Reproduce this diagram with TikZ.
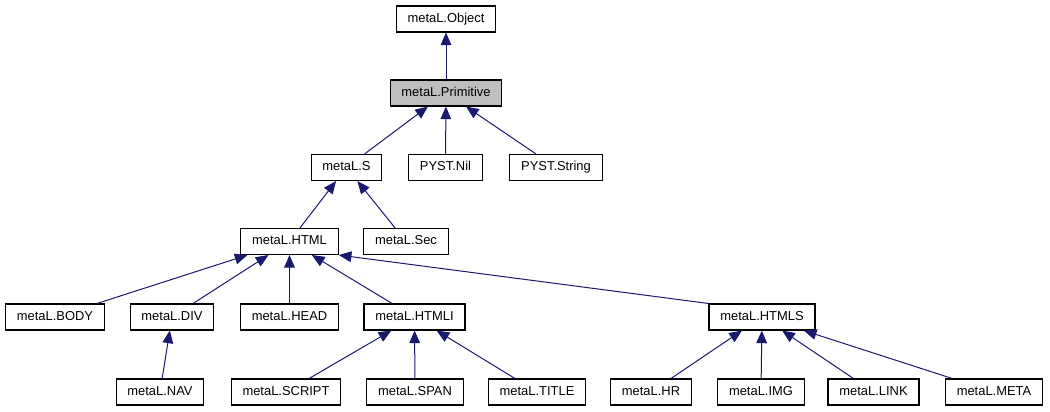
\documentclass[tikz,border=0pt]{standalone}
\usepackage{fontspec}
\setmainfont{Liberation Sans}
\usetikzlibrary{arrows.meta}
\definecolor{edgeblue}{HTML}{191970}
\definecolor{curgray}{HTML}{BFBFBF}
\tikzset{
  box/.style={draw, rectangle, font=\fontsize{9.7}{11}\selectfont, minimum height=19.5pt, inner xsep=8.5pt, inner ysep=0pt, text height=7pt, text depth=2pt, fill=white, line width=0.8pt},
  cur/.style={box, fill=curgray},
  arr/.style={-{Triangle[length=9.5pt,width=8pt]}, color=edgeblue, line width=0.75pt},
}

\begin{document}
\begin{tikzpicture}[x=0.75pt,y=-0.75pt]
\useasboundingbox (0,0) rectangle (1050,411);
\node[box] (obj) at (446,19) {metaL.Object};
\node[cur] (prim) at (446,93) {metaL.Primitive};
\node[box] (s) at (346.5,167.5) {metaL.S};
\node[box] (nil) at (445.5,167.5) {PYST.Nil};
\node[box] (str) at (556,167.5) {PYST.String};
\node[box] (html) at (289.5,241.5) {metaL.HTML};
\node[box] (sec) at (406,241.5) {metaL.Sec};
\node[box] (body) at (55,317) {metaL.BODY};
\node[box] (div) at (172,317) {metaL.DIV};
\node[box] (head) at (289.5,317) {metaL.HEAD};
\node[box] (htmli) at (414.5,317) {metaL.HTMLI};
\node[box] (htmls) at (762,317) {metaL.HTMLS};
\node[box] (nav) at (160,392) {metaL.NAV};
\node[box] (script) at (286,392) {metaL.SCRIPT};
\node[box] (span) at (415,392) {metaL.SPAN};
\node[box] (title) at (537,392) {metaL.TITLE};
\node[box] (hr) at (651,392) {metaL.HR};
\node[box] (img) at (761,392) {metaL.IMG};
\node[box] (link) at (873.5,392) {metaL.LINK};
\node[box] (meta) at (994,392) {metaL.META};
% inheritance edges, child to parent
\draw[arr] (prim) -- (obj);
\draw[arr] (s) -- (prim);
\draw[arr] (nil) -- (prim);
\draw[arr] (str) -- (prim);
\draw[arr] (html) -- (s);
\draw[arr] (sec) -- (s);
\draw[arr] (body) -- (html);
\draw[arr] (div) -- (html);
\draw[arr] (head) -- (html);
\draw[arr] (htmli) -- (html);
\draw[arr] (htmls.north west) -- (html.south east);
\draw[arr] (nav) -- (div);
\draw[arr] (script) -- (htmli);
\draw[arr] (span) -- (htmli);
\draw[arr] (title) -- (htmli);
\draw[arr] (hr) -- (htmls);
\draw[arr] (img) -- (htmls);
\draw[arr] (link) -- (htmls);
\draw[arr] (meta) -- (htmls);
\end{tikzpicture}
\end{document}
